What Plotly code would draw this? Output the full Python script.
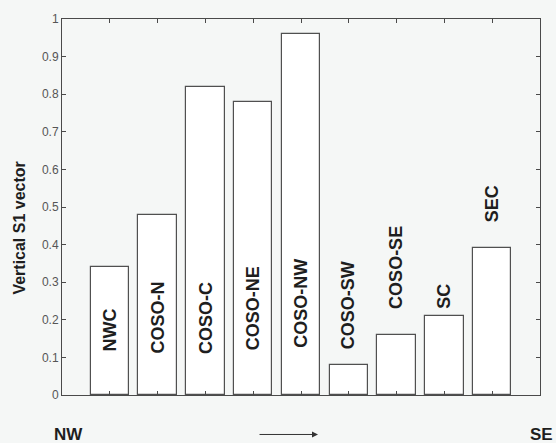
import plotly.graph_objects as go

# Regions ordered from NW to SE and their vertical S1 component
regions = ["NWC", "COSO-N", "COSO-C", "COSO-NE", "COSO-NW",
           "COSO-SW", "COSO-SE", "SC", "SEC"]
s1_vertical = [0.34, 0.48, 0.82, 0.78, 0.96, 0.08, 0.16, 0.21, 0.39]

# Height at which each region name starts (label runs upward from here)
label_base = [0.111, 0.104, 0.105, 0.114, 0.119, 0.116, 0.224, 0.224, 0.453]

y_ticks = [0, 0.1, 0.2, 0.3, 0.4, 0.5, 0.6, 0.7, 0.8, 0.9, 1]

positions = list(range(1, len(regions) + 1))

BG = "#f5f7f6"
INK = "#4a4a4a"
FONT = "Liberation Sans, Arial, sans-serif"

fig = go.Figure()
fig.add_trace(go.Bar(
    x=positions,
    y=s1_vertical,
    width=0.8,
    marker=dict(color="white", line=dict(color="#505050", width=1.2)),
    hoverinfo="skip",
))

for pos, name, base in zip(positions, regions, label_base):
    fig.add_annotation(
        x=pos, y=base, xref="x", yref="y",
        text=f"<b>{name}</b>", textangle=-90,
        showarrow=False, xanchor="center", yanchor="bottom",
        font=dict(family=FONT, size=18, color="#1e1e1e"),
    )

# Axis title
fig.add_annotation(
    x=-0.088, y=0.445, xref="paper", yref="paper",
    text="<b>Vertical S1 vector</b>", textangle=-90,
    showarrow=False, xanchor="center", yanchor="middle",
    font=dict(family=FONT, size=16, color="#1e1e1e"),
)

# Direction hints below the axis
fig.add_annotation(
    x=0.0146, y=-0.105, xref="paper", yref="paper",
    text="<b>NW</b>", showarrow=False, xanchor="center", yanchor="middle",
    font=dict(family=FONT, size=17, color="#1e1e1e"),
)
fig.add_annotation(
    x=1.003, y=-0.105, xref="paper", yref="paper",
    text="<b>SE</b>", showarrow=False, xanchor="center", yanchor="middle",
    font=dict(family=FONT, size=17, color="#1e1e1e"),
)
fig.add_annotation(
    x=0.5356, y=-0.105, xref="paper", yref="paper",
    ax=-60, ay=0, axref="pixel", ayref="pixel",
    text="", showarrow=True, arrowhead=2, arrowsize=1.2,
    arrowwidth=1, arrowcolor="#333333",
)

fig.update_xaxes(
    range=[0, 10],
    tickvals=positions, showticklabels=False,
    ticks="inside", ticklen=4, tickcolor=INK,
    showline=True, linecolor=INK, linewidth=1, mirror="ticks",
    showgrid=False, zeroline=False,
)
fig.update_yaxes(
    range=[0, 1],
    tickvals=y_ticks, ticktext=[f"{v:g}" for v in y_ticks],
    ticks="inside", ticklen=4, tickcolor=INK,
    tickfont=dict(family=FONT, size=12, color="#555555"),
    showline=True, linecolor=INK, linewidth=1, mirror="ticks",
    showgrid=False, zeroline=False,
)

fig.update_layout(
    width=556, height=443,
    margin=dict(l=62, r=16, t=15, b=48),
    paper_bgcolor=BG, plot_bgcolor=BG,
    showlegend=False,
    bargap=0,
)

fig.write_html("out.html")
